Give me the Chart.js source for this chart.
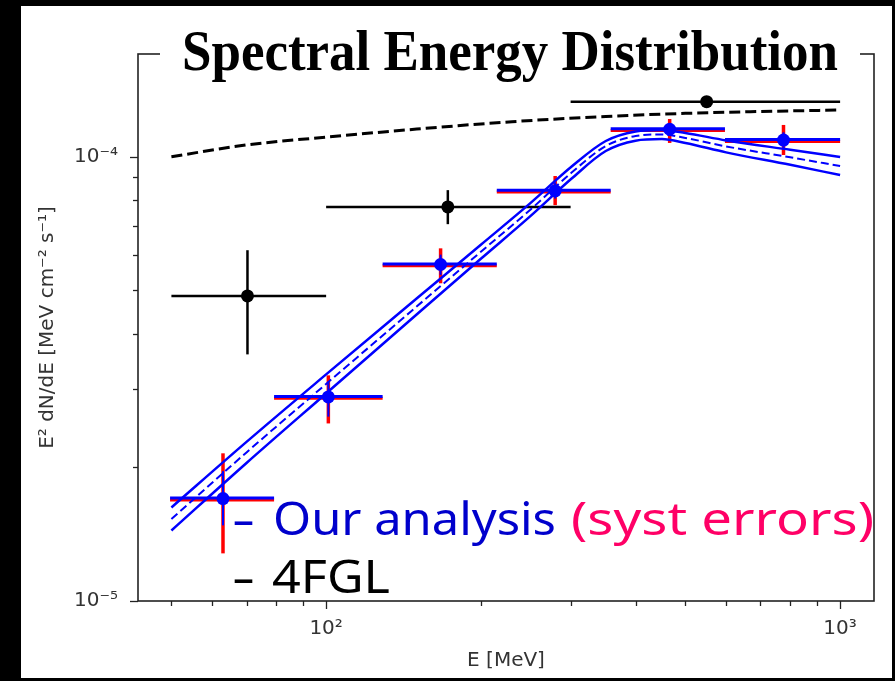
<!DOCTYPE html>
<html>
<head>
<meta charset="utf-8">
<script src="https://cdn.jsdelivr.net/npm/chart.js@4.4.1/dist/chart.umd.min.js"></script>
<style>
  html, body { margin: 0; padding: 0; background: #000; }
  canvas { display: block; }
</style>
</head>
<body>
<canvas id="sed" width="895" height="681"></canvas>
<script>
// ---- model curves ----
const modelEnergy = [50, 70, 100, 150, 200, 250, 300, 350, 400, 450, 500, 600, 800, 1000];
const modelCenter = [1.53e-5, 2.16e-5, 3.08e-5, 4.60e-5, 6.11e-5, 7.61e-5, 9.20e-5, 1.057e-4, 1.113e-4, 1.122e-4, 1.102e-4, 1.055e-4, 9.97e-5, 9.53e-5];
const modelUpper = [1.624e-5, 2.281e-5, 3.236e-5, 4.795e-5, 6.336e-5, 7.871e-5, 9.491e-5, 1.0848e-4, 1.1398e-4, 1.149e-4, 1.131e-4, 1.0883e-4, 1.0366e-4, 9.986e-5];
const modelLower = [1.441e-5, 2.045e-5, 2.932e-5, 4.413e-5, 5.892e-5, 7.358e-5, 8.918e-5, 1.0299e-4, 1.0868e-4, 1.0956e-4, 1.0738e-4, 1.0227e-4, 9.589e-5, 9.095e-5];

const fglCurveEnergy = [50, 70, 100, 150, 230, 350, 500, 700, 1000];
const fglCurveFlux = [1.0e-4, 1.063e-4, 1.107e-4, 1.154e-4, 1.199e-4, 1.232e-4, 1.252e-4, 1.264e-4, 1.274e-4];

// ---- our analysis points ----
const ourE = [63.0, 101, 167, 279, 466, 776];
const ourF = [1.70e-5, 2.88e-5, 5.72e-5, 8.38e-5, 1.153e-4, 1.09e-4];
const ourElo = [49.7, 79.2, 128.8, 214.8, 357.8, 597];
const ourEhi = [79.2, 128.8, 214.8, 357.8, 597, 1000];
const ourStatLo = [1.48e-5, 2.60e-5, 5.42e-5, 8.05e-5, 1.12e-4, 1.045e-4];
const ourStatHi = [1.96e-5, 3.12e-5, 6.02e-5, 8.75e-5, 1.185e-4, 1.135e-4];
const ourSystLo = [1.28e-5, 2.51e-5, 5.19e-5, 7.78e-5, 1.074e-4, 1.009e-4];
const ourSystHi = [2.15e-5, 3.22e-5, 6.22e-5, 9.05e-5, 1.216e-4, 1.179e-4];

// ---- 4FGL points ----
const fglE = [70.3, 172.5, 550];
const fglF = [4.86e-5, 7.71e-5, 1.33e-4];
const fglElo = [50, 100, 299];
const fglEhi = [100, 299, 1000];
const fglFlo = [3.59e-5, 7.05e-5, 1.33e-4];
const fglFhi = [6.16e-5, 8.41e-5, 1.33e-4];

// ---- axes ----
const xTicks = [50, 60, 70, 80, 90, 100, 200, 300, 400, 500, 600, 700, 800, 900, 1000];
const xMajor = [100, 1000];
const xMajorLabels = ['10\u00b2', '10\u00b3'];
const yTicks = [1e-5, 2e-5, 3e-5, 4e-5, 5e-5, 6e-5, 7e-5, 8e-5, 9e-5, 1e-4];
const yMajor = [1e-5, 1e-4];
const yMajorLabels = ['10\u207b\u2075', '10\u207b\u2074'];

const pts = (xs, ys) => xs.map((v, i) => ({x: v, y: ys[i]}));
const majorIndex = (list, v) => list.findIndex(m => Math.abs(m - v) / m < 1e-6);

const background = {
  id: 'background',
  beforeDraw(chart) {
    const ctx = chart.ctx;
    ctx.save();
    ctx.fillStyle = '#000';
    ctx.fillRect(0, 0, chart.width, chart.height);
    ctx.fillStyle = '#fff';
    ctx.fillRect(21, 6, 871, 672);
    ctx.restore();
  }
};

const errorBars = {
  id: 'errorBars',
  beforeDatasetsDraw(chart) {
    const {ctx, chartArea: a, scales: {x, y}} = chart;
    ctx.save();
    ctx.beginPath();
    ctx.rect(a.left, a.top, a.right - a.left, a.bottom - a.top);
    ctx.clip();
    const seg = (x0, y0, x1, y1) => { ctx.beginPath(); ctx.moveTo(x0, y0); ctx.lineTo(x1, y1); ctx.stroke(); };

    // 4FGL
    ctx.strokeStyle = '#000';
    ctx.lineWidth = 2.5;
    fglE.forEach((e, i) => {
      const py = y.getPixelForValue(fglF[i]);
      seg(x.getPixelForValue(fglElo[i]), py, x.getPixelForValue(fglEhi[i]), py);
      if (fglFhi[i] > fglFlo[i]) {
        const px = x.getPixelForValue(e);
        seg(px, y.getPixelForValue(fglFlo[i]), px, y.getPixelForValue(fglFhi[i]));
      }
    });

    // our analysis: systematic (red) under statistical (blue)
    ourE.forEach((e, i) => {
      const px = x.getPixelForValue(e);
      const py = y.getPixelForValue(ourF[i]);
      const xl = x.getPixelForValue(ourElo[i]);
      const xr = x.getPixelForValue(ourEhi[i]);
      ctx.strokeStyle = '#ff0000';
      ctx.lineWidth = 3;
      seg(xl, py + 1.3, xr, py + 1.3);
      ctx.lineWidth = 3.5;
      seg(px, y.getPixelForValue(ourSystLo[i]), px, y.getPixelForValue(ourSystHi[i]));
      ctx.strokeStyle = '#0000ff';
      ctx.lineWidth = 3;
      seg(xl, py - 0.5, xr, py - 0.5);
      ctx.lineWidth = 2;
      seg(px, y.getPixelForValue(ourStatLo[i]), px, y.getPixelForValue(ourStatHi[i]));
    });
    ctx.restore();
  }
};

const frameAndTicks = {
  id: 'frameAndTicks',
  afterDatasetsDraw(chart) {
    const {ctx, chartArea: a, scales: {x, y}} = chart;
    ctx.save();
    ctx.strokeStyle = '#222';
    ctx.lineWidth = 1.3;
    xTicks.forEach(v => {
      const px = Math.round(x.getPixelForValue(v)) + 0.5;
      const len = majorIndex(xMajor, v) >= 0 ? 8 : 5;
      ctx.beginPath(); ctx.moveTo(px, a.bottom); ctx.lineTo(px, a.bottom + len); ctx.stroke();
    });
    yTicks.forEach(v => {
      const py = Math.round(y.getPixelForValue(v)) + 0.5;
      const len = majorIndex(yMajor, v) >= 0 ? 8 : 5;
      ctx.beginPath(); ctx.moveTo(a.left, py); ctx.lineTo(a.left - len, py); ctx.stroke();
    });
    ctx.lineWidth = 1.6;
    ctx.strokeRect(a.left, a.top, a.right - a.left, a.bottom - a.top);
    ctx.restore();
  }
};

function fitText(ctx, text, x0, x1, baseline, color) {
  const w = ctx.measureText(text).width;
  ctx.save();
  ctx.translate(x0, baseline);
  ctx.scale((x1 - x0) / w, 1);
  ctx.fillStyle = color;
  ctx.fillText(text, 0, 0);
  ctx.restore();
}

const annotations = {
  id: 'annotations',
  afterDraw(chart) {
    const ctx = chart.ctx;
    ctx.save();
    // title over the top spine
    ctx.fillStyle = '#fff';
    ctx.fillRect(160, 40, 700, 24);
    ctx.font = 'bold 58px "Liberation Serif", "Times New Roman", serif';
    ctx.textBaseline = 'alphabetic';
    fitText(ctx, 'Spectral Energy Distribution', 182, 838, 70, '#000');

    // legend text
    ctx.font = '46px "Comic Sans MS", "Noto Sans", sans-serif';
    fitText(ctx, '\u2013', 233, 254, 535, '#0000cc');
    fitText(ctx, 'Our analysis', 273, 556, 535, '#0000cc');
    fitText(ctx, '(syst errors)', 571, 874, 535, '#ff0066');
    fitText(ctx, '\u2013', 233, 254, 593, '#000');
    fitText(ctx, '4FGL', 272, 390, 593, '#000');
    ctx.restore();
  }
};

new Chart(document.getElementById('sed'), {
  type: 'scatter',
  data: {
    datasets: [
      {
        label: 'Our analysis',
        data: pts(ourE, ourF),
        backgroundColor: '#0000ff',
        borderColor: '#0000ff',
        pointRadius: 6.5,
        borderWidth: 0,
        order: 0
      },
      {
        label: '4FGL',
        data: pts(fglE, fglF),
        backgroundColor: '#000',
        borderColor: '#000',
        pointRadius: 6.5,
        borderWidth: 0,
        order: 0
      },
      {
        label: 'model',
        data: pts(modelEnergy, modelCenter),
        showLine: true,
        borderColor: '#0000ff',
        borderWidth: 2,
        borderDash: [8, 4],
        pointRadius: 0,
        cubicInterpolationMode: 'monotone',
        order: 1
      },
      {
        label: 'model upper',
        data: pts(modelEnergy, modelUpper),
        showLine: true,
        borderColor: '#0000ff',
        borderWidth: 2.5,
        pointRadius: 0,
        cubicInterpolationMode: 'monotone',
        order: 1
      },
      {
        label: 'model lower',
        data: pts(modelEnergy, modelLower),
        showLine: true,
        borderColor: '#0000ff',
        borderWidth: 2.5,
        pointRadius: 0,
        cubicInterpolationMode: 'monotone',
        order: 1
      },
      {
        label: '4FGL model',
        data: pts(fglCurveEnergy, fglCurveFlux),
        showLine: true,
        borderColor: '#000',
        borderWidth: 3,
        borderDash: [11, 5],
        pointRadius: 0,
        cubicInterpolationMode: 'monotone',
        order: 2
      }
    ]
  },
  options: {
    responsive: false,
    animation: false,
    devicePixelRatio: 1,
    layout: { padding: { left: 0, right: 21, top: 54, bottom: 0 } },
    plugins: {
      legend: { display: false },
      tooltip: { enabled: false }
    },
    scales: {
      x: {
        type: 'logarithmic',
        min: 43.05,
        max: 1164,
        afterFit(scale) { scale.height = 80; },
        afterBuildTicks(scale) { scale.ticks = xTicks.map(v => ({value: v})); },
        grid: { display: true, drawOnChartArea: false, drawTicks: true, tickLength: 8, color: 'rgba(0,0,0,0)' },
        border: { display: false },
        ticks: {
          autoSkip: false,
          maxRotation: 0,
          padding: 8,
          color: '#333',
          font: { family: '"DejaVu Sans"', size: 20 },
          callback: v => { const i = majorIndex(xMajor, v); return i >= 0 ? xMajorLabels[i] : ''; }
        },
        title: {
          display: true,
          text: 'E [MeV]',
          color: '#333',
          font: { family: '"DejaVu Sans"', size: 20 },
          padding: { top: 0, bottom: 8 }
        }
      },
      y: {
        type: 'logarithmic',
        min: 1e-5,
        max: 1.703e-4,
        afterFit(scale) { scale.width = 138; },
        afterBuildTicks(scale) { scale.ticks = yTicks.map(v => ({value: v})); },
        grid: { display: true, drawOnChartArea: false, drawTicks: true, tickLength: 8, color: 'rgba(0,0,0,0)' },
        border: { display: false },
        ticks: {
          autoSkip: false,
          padding: 12,
          color: '#333',
          font: { family: '"DejaVu Sans"', size: 20 },
          callback: v => { const i = majorIndex(yMajor, v); return i >= 0 ? yMajorLabels[i] : ''; }
        },
        title: {
          display: true,
          text: 'E\u00b2 dN/dE [MeV cm\u207b\u00b2 s\u207b\u00b9]',
          color: '#333',
          font: { family: '"DejaVu Sans"', size: 20 },
          padding: { top: 36, bottom: 0 }
        }
      }
    }
  },
  plugins: [background, errorBars, frameAndTicks, annotations]
});
</script>
</body>
</html>
